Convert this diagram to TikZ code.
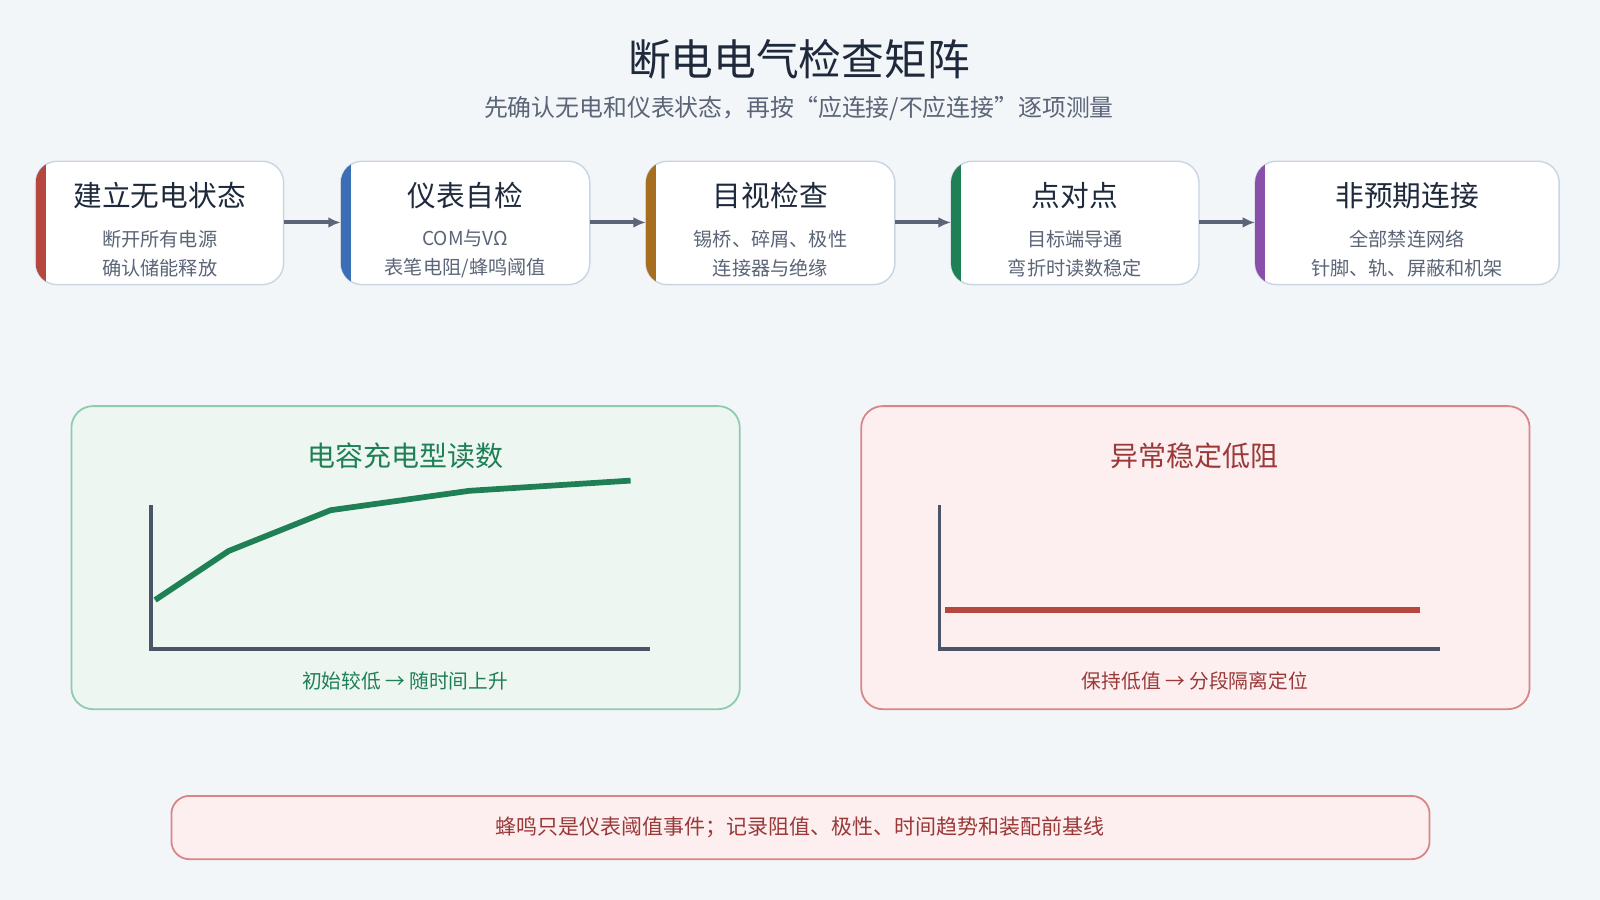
\documentclass[tikz,border=0pt]{standalone}
\usepackage{fontspec}
\setmainfont{Noto Sans CJK SC}
\usetikzlibrary{arrows.meta}
\definecolor{bg}{HTML}{F3F6F9}
\definecolor{ttl}{HTML}{1E293B}
\definecolor{sub}{HTML}{5B6577}
\definecolor{bord}{HTML}{CBD5E1}
\definecolor{cR}{HTML}{B5473F}
\definecolor{cB}{HTML}{3A6FB5}
\definecolor{cO}{HTML}{A86E1F}
\definecolor{cG}{HTML}{1F7F55}
\definecolor{cP}{HTML}{8A4FA8}
\definecolor{gfill}{HTML}{EDF6F1}
\definecolor{gbord}{HTML}{8FCCAE}
\definecolor{rfill}{HTML}{FDEFEF}
\definecolor{rbord}{HTML}{D88686}
\definecolor{rtxt}{HTML}{9B3838}
\definecolor{axiscol}{HTML}{4B5568}
\newcommand{\fs}[1]{\fontsize{#1}{#1}\selectfont}
\tikzset{
 stepbox/.style={draw=bord,fill=white,rounded corners=6,line width=0.4pt},
 bt/.style={text=ttl,font=\fs{8.0}},
 st/.style={text=sub,font=\fs{5.35}},
 flow/.style={draw=sub,line width=1.1pt,-{Latex[length=3.5pt,width=3pt]}},
}
\begin{document}
\begin{tikzpicture}[x=0.01cm,y=-0.01cm]
\fill[bg] (0,0) rectangle (1568,882);
\node[text=ttl,font=\fs{11.9}] (title) at (783,58) {断电电气检查矩阵};
\node[text=sub,font=\fs{6.65}] (subt) at (783,106) {先确认无电和仪表状态，再按“应连接/不应连接”逐项测量};
\foreach \n/\a/\b/\c/\t/\l/\m in {
 s1/35/278/cR/{建立无电状态}/{断开所有电源}/{确认储能释放},
 s2/334/578/cB/{仪表自检}/{COM与VΩ}/{表笔电阻/蜂鸣阈值},
 s3/633/877/cO/{目视检查}/{锡桥、碎屑、极性}/{连接器与绝缘},
 s4/932/1175/cG/{点对点}/{目标端导通}/{弯折时读数稳定},
 s5/1230/1528/cP/{非预期连接}/{全部禁连网络}/{针脚、轨、屏蔽和机架}}{
 \draw[stepbox] (\a,158) rectangle (\b,279);
 \begin{scope}
 \clip[rounded corners=6] (\a,158) rectangle (\b,279);
 \fill[\c] (\a,158) rectangle ({\a+10},279);
 \end{scope}
 \coordinate (\n w) at (\a,218);
 \coordinate (\n e) at (\b,218);
 \node[bt] (\n t) at ({(\a+\b)/2},192) {\t};
 \node[st] (\n l) at ({(\a+\b)/2},234) {\l};
 \node[st] (\n m) at ({(\a+\b)/2},263) {\m};
}
\draw[flow] (s1e) -- (s2w);
\draw[flow] (s2e) -- (s3w);
\draw[flow] (s3e) -- (s4w);
\draw[flow] (s4e) -- (s5w);
% left panel
\draw[draw=gbord,fill=gfill,rounded corners=6,line width=0.5pt] (70,398) rectangle (725,695);
\node[text=cG,font=\fs{7.8}] (lt) at (397,447) {电容充电型读数};
\draw[axiscol,line width=0.9pt] (148,495) -- (148,636) -- (637,636);
\draw[cG,line width=1.6pt,line join=round] (152,588) -- (224,540) -- (324,500) -- (460,481) -- (618,471);
\node[text=cG,font=\fs{5.5}] (ll) at (397,667) {初始较低 → 随时间上升};
% right panel
\draw[draw=rbord,fill=rfill,rounded corners=6,line width=0.5pt] (844,398) rectangle (1499,695);
\node[text=rtxt,font=\fs{7.8}] (rt) at (1171,447) {异常稳定低阻};
\draw[axiscol,line width=0.9pt] (921,495) -- (921,636) -- (1411,636);
\draw[cR,line width=1.6pt] (926,598) -- (1392,598);
\node[text=rtxt,font=\fs{5.5}] (rl) at (1171,667) {保持低值 → 分段隔离定位};
% bottom
\draw[draw=rbord,fill=rfill,rounded corners=5,line width=0.5pt] (168,780) rectangle (1401,842);
\node[text=rtxt,font=\fs{5.85}] (note) at (784,811) {蜂鸣只是仪表阈值事件；记录阻值、极性、时间趋势和装配前基线};
\end{tikzpicture}
\end{document}
